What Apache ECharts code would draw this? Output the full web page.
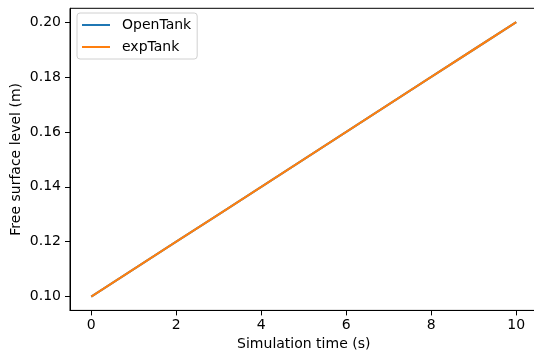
<!DOCTYPE html>
<html>
<head>
<meta charset="utf-8">
<script src="https://cdn.jsdelivr.net/npm/echarts@6/dist/echarts.min.js"></script>
<style>html,body{margin:0;padding:0;background:#fff}#c{width:534px;height:354px}</style>
</head>
<body>
<div id="c"></div>
<script>
const timeS = [0, 1, 2, 3, 4, 5, 6, 7, 8, 9, 10];
const openTank = [0.100, 0.110, 0.120, 0.130, 0.140, 0.150, 0.160, 0.170, 0.180, 0.190, 0.200];
const expTank = [0.100, 0.110, 0.120, 0.130, 0.140, 0.150, 0.160, 0.170, 0.180, 0.190, 0.200];
const xTicks = [0, 2, 4, 6, 8, 10];
const yTicks = [0.10, 0.12, 0.14, 0.16, 0.18, 0.20];
const seriesNames = ['OpenTank', 'expTank'];

const font = 'DejaVu Sans';
const chart = echarts.init(document.getElementById('c'), null, {renderer: 'canvas'});
const pair = (xs, ys) => xs.map((x, i) => [x, ys[i]]);
chart.setOption({
  animation: false,
  backgroundColor: '#fff',
  grid: {left: 70, right: -3.5, top: 8.3, bottom: 43.6, show: true, borderColor: '#000', borderWidth: 1, containLabel: false, outerBoundsMode: 'none'},
  legend: {
    orient: 'vertical', left: 77, top: 13,
    padding: [5, 6, 5, 5],
    itemWidth: 28, itemHeight: 2, itemGap: 8,
    icon: 'rect',
    borderColor: '#d0d0d0', borderWidth: 1, borderRadius: 3,
    backgroundColor: 'rgba(255,255,255,0.8)',
    textStyle: {fontFamily: font, fontSize: 14, color: '#000', padding: [0, 0, 0, 7], lineHeight: 14},
    data: seriesNames
  },
  xAxis: {
    type: 'value', min: -0.5, max: 10.5,
    name: 'Simulation time (s)', nameLocation: 'middle', nameGap: 27, nameMoveOverlap: false,
    nameTextStyle: {fontFamily: font, fontSize: 14, color: '#000'},
    axisLine: {show: true, onZero: false, lineStyle: {color: '#000', width: 1}},
    axisTick: {show: true, length: 5, lineStyle: {color: '#000'}, customValues: xTicks},
    axisLabel: {fontFamily: font, fontSize: 14, color: '#000', margin: 8, customValues: xTicks, formatter: v => String(v)},
    splitLine: {show: false}
  },
  yAxis: {
    type: 'value', min: 0.095, max: 0.205,
    name: 'Free surface level (m)', nameLocation: 'middle', nameGap: 47, nameRotate: 90, nameMoveOverlap: false,
    nameTextStyle: {fontFamily: font, fontSize: 14, color: '#000'},
    axisLine: {show: true, onZero: false, lineStyle: {color: '#000', width: 1}},
    axisTick: {show: true, length: 5, lineStyle: {color: '#000'}, customValues: yTicks},
    axisLabel: {fontFamily: font, fontSize: 14, color: '#000', margin: 9, customValues: yTicks, formatter: v => v.toFixed(2)},
    splitLine: {show: false}
  },
  series: [
    {name: seriesNames[0], type: 'line', data: pair(timeS, openTank), showSymbol: false, symbol: 'none', color: '#1f77b4', lineStyle: {width: 2.1, color: '#1f77b4'}},
    {name: seriesNames[1], type: 'line', data: pair(timeS, expTank), showSymbol: false, symbol: 'none', color: '#ff7f0e', lineStyle: {width: 2.1, color: '#ff7f0e'}}
  ]
});
</script>
</body>
</html>
